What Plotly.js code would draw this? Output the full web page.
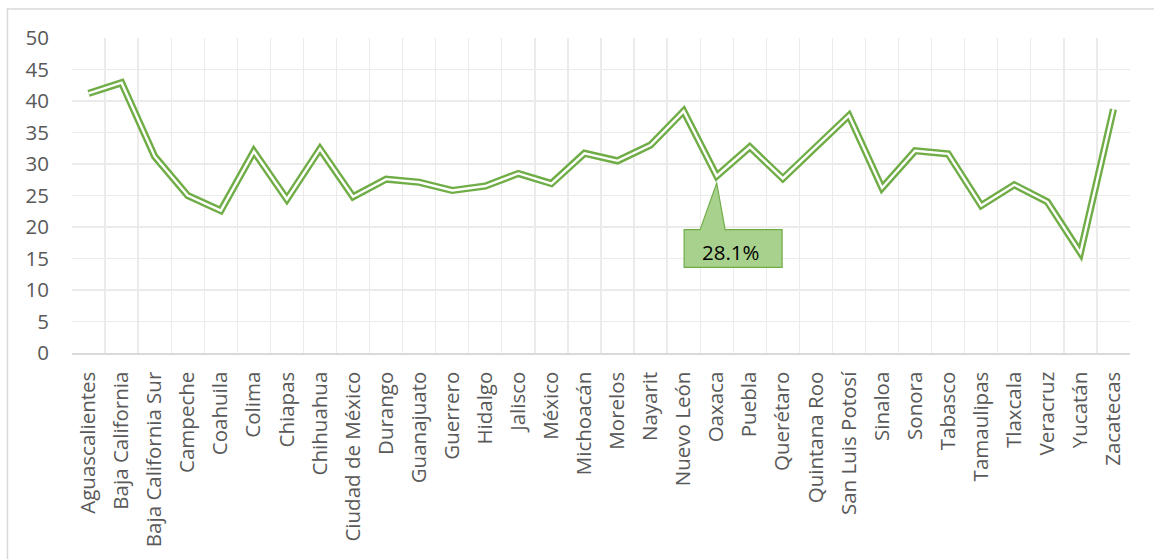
<!DOCTYPE html>
<html>
<head>
<meta charset="utf-8">
<script src="https://cdn.plot.ly/plotly-3.0.1.min.js"></script>
<style>
  html, body { margin: 0; padding: 0; background: #ffffff; }
  #chart { width: 1154px; height: 559px; }
  #chart path.js-line { stroke-miterlimit: 20; stroke-linejoin: miter; }
</style>
</head>
<body>
<div id="chart"></div>
<script>
const states = [
  "Aguascalientes", "Baja California", "Baja California Sur", "Campeche", "Coahuila",
  "Colima", "Chiapas", "Chihuahua", "Ciudad de México", "Durango",
  "Guanajuato", "Guerrero", "Hidalgo", "Jalisco", "México",
  "Michoacán", "Morelos", "Nayarit", "Nuevo León", "Oaxaca",
  "Puebla", "Querétaro", "Quintana Roo", "San Luis Potosí", "Sinaloa",
  "Sonora", "Tabasco", "Tamaulipas", "Tlaxcala", "Veracruz",
  "Yucatán", "Zacatecas"
];
const values = [
  41.2, 42.9, 31.2, 25.0, 22.6,
  32.0, 24.4, 32.4, 24.8, 27.6,
  27.1, 25.8, 26.5, 28.5, 26.9,
  31.7, 30.5, 33.0, 38.4, 28.1,
  32.7, 27.7, 32.7, 37.7, 26.2,
  32.1, 31.6, 23.4, 26.7, 24.0,
  15.9, 38.7
];
const yTicks = [0, 5, 10, 15, 20, 25, 30, 35, 40, 45, 50];
const calloutState = "Oaxaca";

const green = "#70ad47";
const grey = "#595959";
const font = "Open Sans, Liberation Sans, sans-serif";
const fsize = 20.5;

const calloutIndex = states.indexOf(calloutState);
const calloutValue = values[calloutIndex];

const traces = [
  { x: states, y: values, type: "scatter", mode: "lines",
    line: { color: green, width: 7.2 }, hoverinfo: "skip", showlegend: false },
  { x: states, y: values, type: "scatter", mode: "lines",
    line: { color: "#ffffff", width: 2.4 }, hoverinfo: "skip", showlegend: false }
];

const layout = {
  width: 1154, height: 559,
  margin: { l: 72, r: 24, t: 38, b: 206, pad: 0 },
  paper_bgcolor: "#ffffff", plot_bgcolor: "#ffffff",
  font: { family: font, size: fsize, color: grey },
  showlegend: false,
  xaxis: {
    type: "category",
    categoryorder: "array", categoryarray: states,
    range: [-0.5, states.length - 0.5],
    tickson: "boundaries",
    showgrid: true, gridcolor: "#ebebeb", gridwidth: 1.3,
    showline: true, linecolor: "#d9d9d9", linewidth: 1.5,
    ticks: "", tickangle: -90,
    ticklabelstandoff: 9,
    tickfont: { family: font, size: fsize, color: grey },
    zeroline: false, fixedrange: true
  },
  yaxis: {
    range: [0, 50],
    tickmode: "array", tickvals: yTicks, ticktext: yTicks.map(String),
    showgrid: true, gridcolor: "#ebebeb", gridwidth: 1.3,
    zeroline: false, showline: false,
    ticks: "", ticklabelstandoff: 22,
    tickfont: { family: font, size: fsize, color: grey },
    fixedrange: true
  },
  shapes: [
    { type: "rect", xref: "paper", yref: "paper",
      x0: -0.061, x1: 1.05, y0: -0.75, y1: 1.092,
      line: { color: "#d9d9d9", width: 1.5 }, fillcolor: "rgba(0,0,0,0)", layer: "below" },
    { type: "path", xref: "x", yref: "y",
      xsizemode: "pixel", ysizemode: "pixel",
      xanchor: calloutState, yanchor: calloutValue,
      path: "M -32.6,-53.7 L -16.6,-53.7 L 0,-7 L 8.4,-53.7 L 65.4,-53.7 L 65.4,-91.4 L -32.6,-91.4 Z",
      fillcolor: "#a9d18e", line: { color: green, width: 1.2 }, layer: "above" }
  ],
  annotations: [
    { x: calloutState, y: calloutValue, xref: "x", yref: "y",
      text: calloutValue.toFixed(1) + "%", showarrow: false,
      xshift: 14, yshift: -76,
      font: { family: font, size: fsize, color: "#000000" } }
  ]
};

Plotly.newPlot("chart", traces, layout, { displayModeBar: false, staticPlot: true });
</script>
</body>
</html>
